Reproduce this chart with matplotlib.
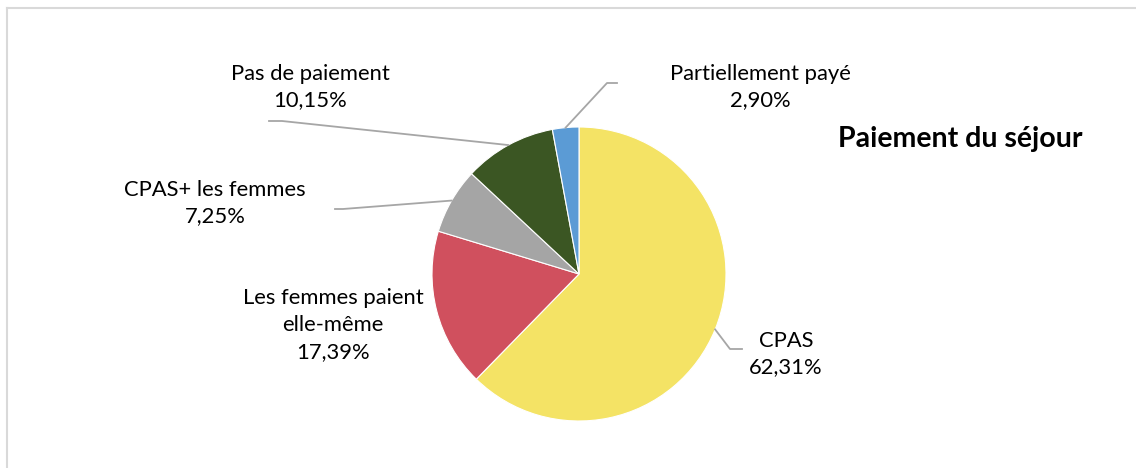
import numpy as np
import matplotlib.pyplot as plt
from matplotlib.lines import Line2D

plt.rcParams['font.family'] = ['Lato', 'DejaVu Sans']

categories = ['CPAS', 'Les femmes paient\nelle-même', 'CPAS+ les femmes',
              'Pas de paiement', 'Partiellement payé']
values = [62.31, 17.39, 7.25, 10.15, 2.90]
colors = ['#F4E365', '#D0505E', '#A5A5A5', '#3B5623', '#5B9BD5']
title = 'Paiement du séjour'

W, H = 1136, 468
cx, cy, r = 579, H - 274, 147

# label positions (pixel coords, y from top) and leader elbows
label_pos = [(786, 354), (333, 325), (215, 203), (310, 87), (760, 87)]
elbows = [[(730, 349), (742, 349)], None, [(343, 209), (335, 209)],
          [(282, 121), (269, 121)], [(607, 83), (617, 83)]]

fig = plt.figure(figsize=(W / 100, H / 100), dpi=100)
ax = fig.add_axes([0, 0, 1, 1])

wedges, _ = ax.pie(values, colors=colors, startangle=90, counterclock=False,
                   center=(cx, cy), radius=r,
                   wedgeprops=dict(edgecolor='white', linewidth=0.8))
# pie() resets the limits, so set them afterwards
ax.set_xlim(0, W)
ax.set_ylim(0, H)
ax.set_aspect('equal')
ax.axis('off')

for w, name, val, pos, elb in zip(wedges, categories, values, label_pos, elbows):
    txt = name + '\n' + ('%.2f%%' % val).replace('.', ',')
    ax.text(pos[0], H - pos[1], txt, ha='center', va='center', fontsize=15.8,
            linespacing=1.42, color='#000000')
    if elb is None:
        continue
    ang = np.deg2rad((w.theta1 + w.theta2) / 2)
    xs = [cx + r * np.cos(ang)] + [p[0] for p in elb]
    ys = [cy + r * np.sin(ang)] + [H - p[1] for p in elb]
    ax.plot(xs, ys, color='#A6A6A6', lw=1.3)

ax.text(960, H - 139, title, ha='center', va='center', fontsize=20.5,
        fontweight='bold')

# chart frame
fig.add_artist(Line2D([7 / W, 1], [1 - 8 / H, 1 - 8 / H], color='#D9D9D9', lw=1.5))
fig.add_artist(Line2D([7 / W, 7 / W], [0, 1 - 8 / H], color='#D9D9D9', lw=1.5))

fig.savefig('out.png', dpi=100, facecolor='white')
